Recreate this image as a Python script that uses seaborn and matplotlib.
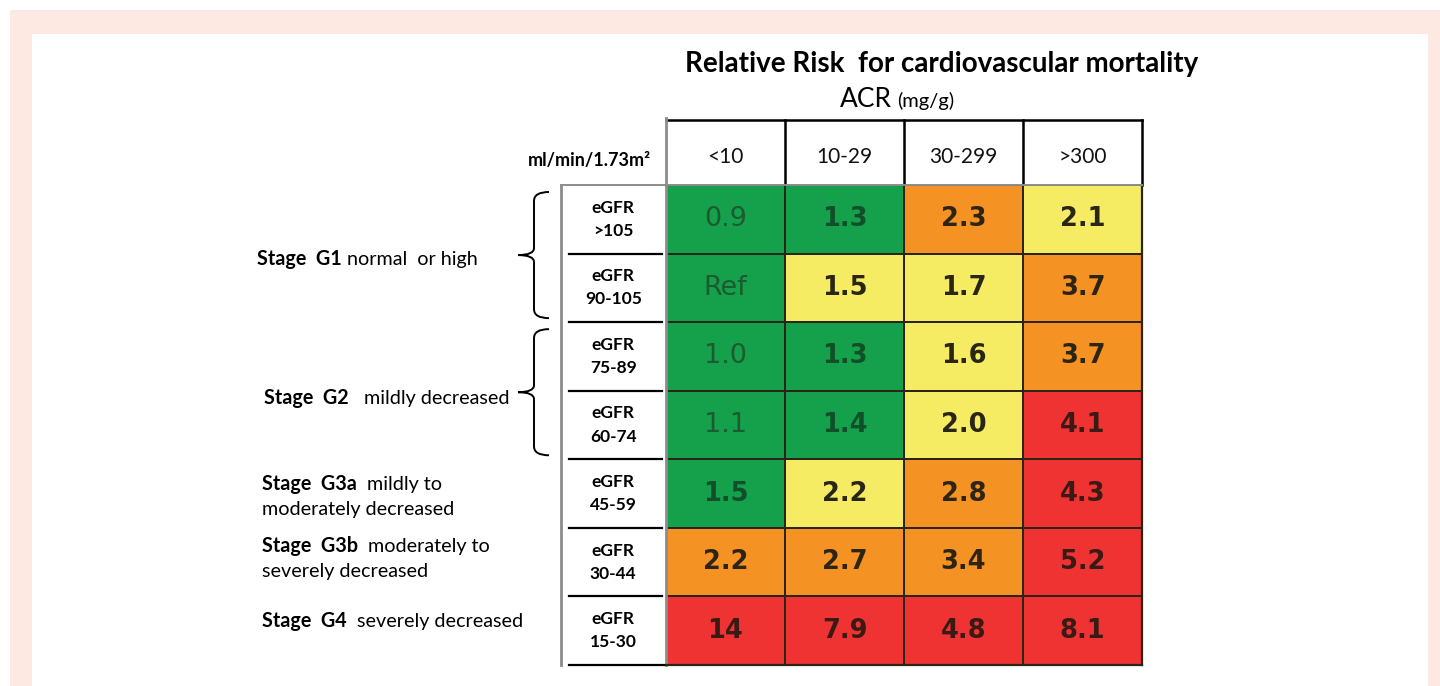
import numpy as np
import pandas as pd
import matplotlib
matplotlib.use('Agg')
import matplotlib.pyplot as plt
import seaborn as sns
from matplotlib.colors import ListedColormap
from matplotlib.patches import Rectangle, PathPatch
from matplotlib.path import Path

# 데이터
acr_bins = ['<10', '10-29', '30-299', '>300']
egfr_bins = ['eGFR\n>105', 'eGFR\n90-105', 'eGFR\n75-89', 'eGFR\n60-74',
             'eGFR\n45-59', 'eGFR\n30-44', 'eGFR\n15-30']
rr_labels = [['0.9', '1.3', '2.3', '2.1'],
             ['Ref', '1.5', '1.7', '3.7'],
             ['1.0', '1.3', '1.6', '3.7'],
             ['1.1', '1.4', '2.0', '4.1'],
             ['1.5', '2.2', '2.8', '4.3'],
             ['2.2', '2.7', '3.4', '5.2'],
             ['14', '7.9', '4.8', '8.1']]
# 0 green, 1 yellow, 2 orange, 3 red
risk_level = [[0, 0, 2, 1],
              [0, 1, 1, 2],
              [0, 0, 1, 2],
              [0, 0, 1, 3],
              [0, 1, 2, 3],
              [2, 2, 2, 3],
              [3, 3, 3, 3]]
stage_bold = ['Stage  G1', 'Stage  G2', 'Stage  G3a', 'Stage  G3b', 'Stage  G4']
stage_rest = [' normal  or high', '   mildly decreased', '  mildly to',
              '  moderately to', '  severely decreased']
stage_line2 = ['', '', 'moderately decreased', 'severely decreased', '']
brace_groups = [(0, 2), (2, 4)]

risk_colors = ['#15a14b', '#f6ec64', '#f49224', '#ee3332']
text_colors = ['#114f28', '#2a2616', '#2e2414', '#3a1a14']

df = pd.DataFrame(risk_level, index=egfr_bins, columns=acr_bins)
annot = np.array(rr_labels)

plt.rcParams['font.family'] = ['Lato', 'DejaVu Sans']

W, H = 1440, 686
fig = plt.figure(figsize=(W / 100, H / 100), dpi=100)

# 배경 (픽셀 좌표)
bg = fig.add_axes([0, 0, 1, 1])
bg.set_xlim(0, W)
bg.set_ylim(H, 0)
bg.axis('off')
bg.add_patch(Rectangle((10, 10), W - 10, H - 10, fc='#fde9e2', ec='none'))
bg.add_patch(Rectangle((32, 34), 1396, H - 34, fc='white', ec='none'))

# 표 위치
x0, x1 = 666, 1142
y0, y1 = 185, 665
col_w = (x1 - x0) / len(acr_bins)
row_h = (y1 - y0) / len(egfr_bins)

ax = fig.add_axes([x0 / W, 1 - y1 / H, (x1 - x0) / W, (y1 - y0) / H])
sns.heatmap(df, cmap=ListedColormap(risk_colors), vmin=-0.5, vmax=3.5,
            annot=annot, fmt='', cbar=False, linewidths=1.4, linecolor='#2b2519',
            annot_kws={'fontsize': 18.5, 'family': 'DejaVu Sans', 'weight': 'bold'},
            ax=ax)
ax.set_facecolor('none')
ax.set_xlabel('')
ax.set_ylabel('')

for k, t in enumerate(ax.texts):
    i, j = divmod(k, len(acr_bins))
    lvl = risk_level[i][j]
    t.set_color(text_colors[lvl])
    if j == 0 and i < 4:
        t.set_fontweight('normal')
        t.set_fontsize(19.5)
        t.set_color('#1c5a30')

ax.tick_params(axis='x', top=True, bottom=False, labeltop=True, labelbottom=False,
               length=0, pad=20)
ax.set_xticklabels(acr_bins, rotation=0, fontsize=15, color='#111111', va='center')
ax.tick_params(axis='y', length=0, pad=38)
ax.set_yticklabels(egfr_bins, rotation=0, ha='center', fontsize=12.5,
                   fontweight='bold', linespacing=1.55, va='center')

for side in ['right', 'bottom']:
    ax.spines[side].set_visible(True)
    ax.spines[side].set_color('#2b2519')
    ax.spines[side].set_linewidth(1.6)
ax.spines['left'].set_visible(True)
ax.spines['left'].set_color('#8c8c8c')
ax.spines['left'].set_linewidth(2)
ax.spines['top'].set_visible(True)
ax.spines['top'].set_color('#8c8c8c')
ax.spines['top'].set_linewidth(1.4)

# 헤더 선
bg.plot([x0, x1], [120, 120], color='black', lw=1.8)
bg.plot([x0, x0], [118, y0], color='#8c8c8c', lw=2)
for j in range(1, len(acr_bins) + 1):
    bg.plot([x0 + j * col_w] * 2, [120, y0], color='black', lw=1.8)

# eGFR 열 선
bg.plot([561, 561], [y0, y1], color='#8c8c8c', lw=2)
bg.plot([561, x0], [y0, y0], color='#8c8c8c', lw=1.4)
for i in range(1, len(egfr_bins) + 1):
    bg.plot([569, x0 - 4 if i < len(egfr_bins) else x0], [y0 + i * row_h] * 2,
            color='black', lw=1.6)

# 제목
bg.text(942, 72, 'Relative Risk  for cardiovascular mortality', ha='center',
        va='baseline', fontsize=20, fontweight='bold', color='black')
bg.text(892, 107, 'ACR', ha='right', va='baseline', fontsize=19, color='black')
bg.text(897, 107, '(mg/g)', ha='left', va='baseline', fontsize=14.5, color='black')
bg.text(589, 166, 'ml/min/1.73m²', ha='center', va='baseline', fontsize=13,
        fontweight='bold', color='black')


# 중괄호
def brace(r0, r1):
    yt = y0 + r0 * row_h + 7
    yb = y0 + r1 * row_h - 4
    ym = (yt + yb) / 2
    xs, xh, xt = 534, 549, 518
    verts = [(xh, yt), (xs, yt), (xs, yt + 9),
             (xs, ym - 7), (xs, ym), (xt, ym),
             (xs, ym), (xs, ym + 7),
             (xs, yb - 9), (xs, yb), (xh, yb)]
    codes = [Path.MOVETO, Path.CURVE3, Path.CURVE3,
             Path.LINETO, Path.CURVE3, Path.CURVE3,
             Path.CURVE3, Path.CURVE3,
             Path.LINETO, Path.CURVE3, Path.CURVE3]
    bg.add_patch(PathPatch(Path(verts, codes), fc='none', ec='black', lw=1.4))


for r0, r1 in brace_groups:
    brace(r0, r1)

# 단계 라벨
stage_pos = [(257, 265), (264, 404), (262, 490), (262, 552), (262, 627)]
fig.canvas.draw()
renderer = fig.canvas.get_renderer()
inv = bg.transData.inverted()
for (sx, sy), b, rest, l2 in zip(stage_pos, stage_bold, stage_rest, stage_line2):
    tb = bg.text(sx, sy, b, ha='left', va='baseline', fontsize=14.2,
                 fontweight='bold', color='black')
    bb = tb.get_window_extent(renderer=renderer)
    xr = inv.transform((bb.x1, bb.y0))[0]
    bg.text(xr, sy, rest, ha='left', va='baseline', fontsize=14.2, color='black')
    if l2:
        bg.text(sx, sy + 25, l2, ha='left', va='baseline', fontsize=14.2,
                color='black')

fig.savefig('out.png', dpi=100)
